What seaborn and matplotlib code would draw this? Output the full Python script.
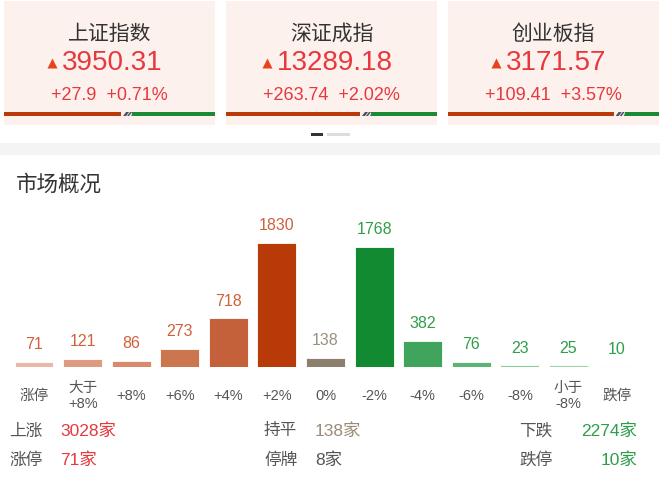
import matplotlib
matplotlib.use("Agg")
import matplotlib.pyplot as plt
from matplotlib.patches import Rectangle, Polygon
import seaborn as sns
import pandas as pd

# --- data ---
index_names = ["上证指数", "深证成指", "创业板指"]
index_values = ["3950.31", "13289.18", "3171.57"]
index_changes = ["+27.9  +0.71%", "+263.74  +2.02%", "+109.41  +3.57%"]
index_up_share = [0.555, 0.635, 0.785]

categories = ["涨停", "大于\n+8%", "+8%", "+6%", "+4%", "+2%", "0%",
              "-2%", "-4%", "-6%", "-8%", "小于\n-8%", "跌停"]
counts = [71, 121, 86, 273, 718, 1830, 138, 1768, 382, 76, 23, 25, 10]
bar_colors = ["#e9b8a6", "#dd9b81", "#d98a6c", "#cc7650", "#c5613a", "#b83a08",
              "#8c806c", "#128a32", "#41a45c", "#5db373", "#8ccc9c", "#9dd4aa", "#c9e9d1"]
label_colors = ["#d0603a"] * 6 + ["#9a917f"] + ["#2e9e4a"] * 6

stats_left = [("上涨", "3028家", "#e8383d"), ("涨停", "71家", "#e8383d")]
stats_mid = [("持平", "138家", "#9a8c78"), ("停牌", "8家", "#555555")]
stats_right = [("下跌", "2274家", "#2e9e4a"), ("跌停", "10家", "#2e9e4a")]

RED = "#e8383d"
DARK = "#333333"
NUM_FONT = ["Liberation Sans", "Noto Sans CJK SC", "DejaVu Sans"]

sns.set_theme(style="white")
plt.rcParams["font.family"] = ["Noto Sans CJK SC", "DejaVu Sans"]

W, H = 660, 495
fig = plt.figure(figsize=(6.6, 4.95), dpi=100)
fig.patch.set_facecolor("white")

# background axes in pixel coordinates
bg = fig.add_axes([0, 0, 1, 1])
bg.set_xlim(0, W)
bg.set_ylim(H, 0)
bg.axis("off")

card_left = [4, 226, 448]
card_w = 211
for i, x0 in enumerate(card_left):
    bg.add_patch(Rectangle((x0, 1), card_w, 124, color="#fdf1ed", lw=0))
    cx = x0 + card_w / 2
    bg.text(cx, 34, index_names[i], ha="center", va="center", fontsize=15, color=DARK)
    t = bg.text(cx + 3, 63, index_values[i], ha="center", va="center", fontsize=20,
                color=RED, family=NUM_FONT)
    bg.text(cx, 95, index_changes[i], ha="center", va="center", fontsize=13,
            color=RED, family=NUM_FONT)
    # up / down strip
    split = x0 + card_w * index_up_share[i]
    bg.add_patch(Rectangle((x0, 112), split - x0, 4, color="#b83a08", lw=0))
    bg.add_patch(Polygon([(split + 2, 116), (split + 5, 112), (split + 8, 112), (split + 5, 116)],
                         color="#4a5066", lw=0))
    bg.add_patch(Polygon([(split + 6, 116), (split + 9, 112), (split + 11, 112), (split + 8, 116)],
                         color="#4a5066", lw=0))
    bg.add_patch(Rectangle((split + 11, 112), x0 + card_w - split - 11, 4, color="#1a8a35", lw=0))
    bg.add_patch(Polygon([(split + 10, 116), (split + 12, 112), (split + 14, 112), (split + 12, 116)],
                         color="#1a8a35", lw=0))
    # triangle left of the number
    fig.canvas.draw()
    bb = t.get_window_extent()
    bg.plot(bb.x0 - 10, 63, marker="^", markersize=6.5, color="#e8431c", mec="none")

# page indicator
bg.add_patch(Rectangle((311, 133), 12, 3, color="#333333", lw=0))
bg.add_patch(Rectangle((327, 133), 23, 3, color="#dddddd", lw=0))

# grey separator
bg.add_patch(Rectangle((0, 143), W, 12, color="#f4f4f4", lw=0))

bg.text(16, 185, "市场概况", ha="left", va="center", fontsize=15.5, color=DARK, fontweight="medium")

# bottom stats
for row, y in enumerate([431, 460]):
    name, val, col = stats_left[row]
    bg.text(9, y, name, ha="left", va="center", fontsize=12, color="#555555")
    bg.text(60, y, val, ha="left", va="center", fontsize=12.5, color=col, family=NUM_FONT)
    name, val, col = stats_mid[row]
    bg.text(264, y, name, ha="left", va="center", fontsize=12, color="#555555")
    bg.text(315, y, val, ha="left", va="center", fontsize=12.5, color=col, family=NUM_FONT)
    name, val, col = stats_right[row]
    bg.text(519, y, name, ha="left", va="center", fontsize=12, color="#555555")
    bg.text(637, y, val, ha="right", va="center", fontsize=12.5, color=col, family=NUM_FONT)

# --- bar chart ---
base_px, top_px = 367, 200
left_px, right_px = 9.7, 641.3
ax = fig.add_axes([left_px / W, (H - base_px) / H, (right_px - left_px) / W, (base_px - top_px) / H])
ax.patch.set_alpha(0)

df = pd.DataFrame({"cat": categories, "count": counts})
sns.barplot(data=df, x="cat", y="count", hue="cat", palette=bar_colors, legend=False,
            width=0.8, ax=ax, saturation=1, edgecolor="white", linewidth=0.6)
ax.set_xlim(-0.5, len(categories) - 0.5)
ax.set_ylim(0, max(counts) * (base_px - top_px) / 124)
for i, v in enumerate(counts):
    ax.annotate(str(v), (i, v), xytext=(0, 7), textcoords="offset points",
                ha="center", va="bottom", fontsize=11.5, color=label_colors[i], family=NUM_FONT)

ax.set_xlabel("")
ax.set_ylabel("")
ax.set_yticks([])
ax.tick_params(axis="x", length=0, pad=21, labelsize=10.5, labelcolor="#555555")
for lab in ax.get_xticklabels():
    lab.set_verticalalignment("center")
    lab.set_multialignment("center")
    lab.set_family(NUM_FONT)
sns.despine(ax=ax, left=True, bottom=True)

fig.savefig("out.png", dpi=100, facecolor="white")
